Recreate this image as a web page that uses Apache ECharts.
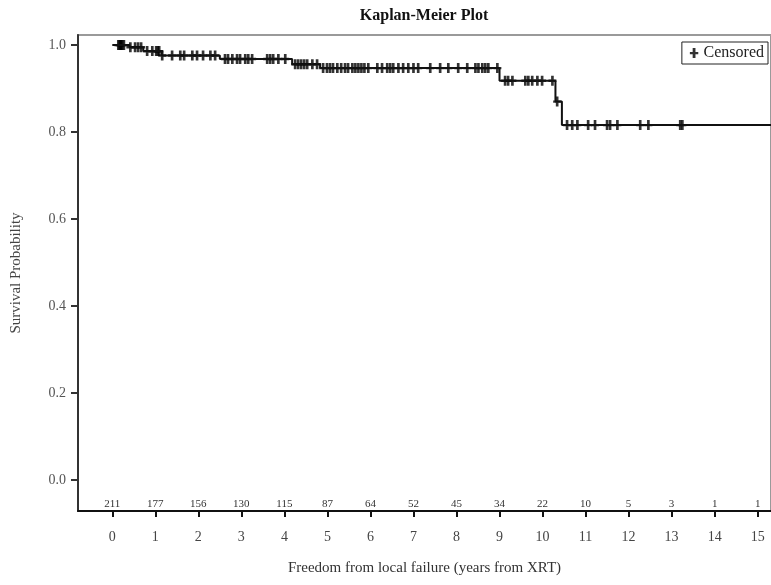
<!DOCTYPE html>
<html>
<head>
<meta charset="utf-8">
<script src="https://cdn.jsdelivr.net/npm/echarts@6/dist/echarts.min.js"></script>
<style>
  html, body { margin: 0; padding: 0; background: #fff; }
  #km_pic { width: 771px; height: 585px; }
</style>
</head>
<body>
<div id="km_pic"></div>
<script>
// KM step curve: time (years) and survival after each drop
var stepTimes = [0, 0.4, 0.72, 1.15, 2.5, 4.18, 4.83, 9.0, 10.3, 10.45, 15.31];
var stepSurv = [1.0, 0.995, 0.986, 0.976, 0.968, 0.956, 0.947, 0.918, 0.870, 0.816, 0.816];

// censored times (years)
var censorTimes = [
    0.14, 0.17, 0.19, 0.21, 0.23, 0.27, 0.42, 0.53, 0.60, 0.67, 0.81, 0.93, 1.02, 1.06, 1.09, 1.16,
    1.39, 1.58, 1.67, 1.86, 1.97, 2.11, 2.28, 2.39, 2.62, 2.69, 2.79, 2.90, 2.97, 3.09, 3.16, 3.25,
    3.60, 3.67, 3.74, 3.86, 4.02, 4.25, 4.32, 4.39, 4.46, 4.53, 4.65, 4.76, 4.90, 4.99, 5.06, 5.13,
    5.23, 5.32, 5.41, 5.48, 5.58, 5.65, 5.72, 5.79, 5.86, 5.95, 6.16, 6.27, 6.39, 6.46, 6.53, 6.65,
    6.76, 6.88, 7.00, 7.11, 7.39, 7.62, 7.81, 8.04, 8.25, 8.44, 8.51, 8.60, 8.67, 8.74, 8.95, 9.13,
    9.20, 9.30, 9.60, 9.67, 9.76, 9.88, 9.99, 10.23, 10.34, 10.57, 10.69, 10.81, 11.06, 11.22, 11.50,
    11.57, 11.74, 12.27, 12.46, 13.20, 13.25
];

// numbers at risk
var riskTimes = [0, 1, 2, 3, 4, 5, 6, 7, 8, 9, 10, 11, 12, 13, 14, 15];
var atRisk = [211, 177, 156, 130, 115, 87, 64, 52, 45, 34, 22, 10, 5, 3, 1, 1];
var yTicks = [0, 0.2, 0.4, 0.6, 0.8, 1.0];

function survAt(t) {
    var s = stepSurv[0];
    for (var i = 0; i < stepTimes.length; i++) {
        if (stepTimes[i] <= t) s = stepSurv[i];
    }
    return s;
}

var curve = [];
for (var i = 0; i < stepTimes.length; i++) {
    curve.push([stepTimes[i], stepSurv[i]]);
}
var censored = [];
for (var j = 0; j < censorTimes.length; j++) {
    censored.push([censorTimes[j], survAt(censorTimes[j])]);
}

var serif = '"Liberation Serif", "DejaVu Serif", serif';
var plusPath = 'path://M2.8,0H5.6V3.9H8.4V6.3H5.6V10H2.8V6.3H0V3.9H2.8Z';

var km_Chart = echarts.init(document.getElementById('km_pic'));

var option_km = {
    animation: false,
    title: {
        text: 'Kaplan-Meier Plot',
        left: 424,
        textAlign: 'center',
        top: 8,
        padding: 0,
        textStyle: { fontFamily: serif, fontSize: 16, fontWeight: 'bold', color: '#111' }
    },
    legend: {
        data: ['Censored'],
        right: 3,
        top: 42,
        orient: 'horizontal',
        borderColor: '#222',
        borderWidth: 1,
        padding: [3, 4, 3, 8],
        itemWidth: 9,
        itemHeight: 10,
        itemGap: 6,
        textStyle: { fontFamily: serif, fontSize: 16, color: '#222' }
    },
    grid: {
        left: 78,
        top: 35,
        right: 0,
        bottom: 74,
        outerBoundsMode: 'none',
        show: true,
        borderColor: '#9a9a9a',
        borderWidth: 2
    },
    xAxis: [
        {
            type: 'value',
            min: -0.797,
            max: 15.31,
            name: 'Freedom from local failure (years from XRT)',
            nameLocation: 'middle',
            nameGap: 50,
            nameTextStyle: { fontFamily: serif, fontSize: 15, color: '#333' },
            axisLine: { show: true, onZero: false, lineStyle: { color: '#111', width: 2 } },
            axisTick: { show: true, length: 6, customValues: riskTimes, lineStyle: { color: '#111', width: 2 } },
            axisLabel: {
                customValues: riskTimes,
                margin: 19,
                fontFamily: serif,
                fontSize: 14,
                color: '#444'
            },
            splitLine: { show: false }
        },
        {
            type: 'value',
            min: -0.797,
            max: 15.31,
            position: 'bottom',
            axisLine: { show: false },
            axisTick: { show: false, customValues: riskTimes },
            axisLabel: {
                inside: true,
                customValues: riskTimes,
                margin: 1,
                fontFamily: serif,
                fontSize: 11,
                color: '#333',
                formatter: function (v) {
                    var k = riskTimes.indexOf(Math.round(v));
                    return k >= 0 ? String(atRisk[k]) : '';
                }
            },
            splitLine: { show: false }
        }
    ],
    yAxis: {
        type: 'value',
        min: -0.0713,
        max: 1.023,
        name: 'Survival Probability',
        nameLocation: 'middle',
        nameRotate: 90,
        nameGap: 54,
        nameTextStyle: { fontFamily: serif, fontSize: 15, color: '#444' },
        axisLine: { show: true, onZero: false, lineStyle: { color: '#333', width: 2 } },
        axisTick: { show: true, length: 7, customValues: yTicks, lineStyle: { color: '#333', width: 2 } },
        axisLabel: {
            customValues: yTicks,
            margin: 12,
            fontFamily: serif,
            fontSize: 14,
            color: '#555',
            formatter: function (v) { return v.toFixed(1); }
        },
        splitLine: { show: false }
    },
    series: [
        {
            name: 'Survival',
            type: 'line',
            step: 'end',
            data: curve,
            symbol: 'none',
            clip: true,
            lineStyle: { color: '#111', width: 2 }
        },
        {
            name: 'Censored',
            type: 'scatter',
            data: censored,
            symbol: plusPath,
            symbolSize: [8, 10],
            itemStyle: { color: '#000' }
        }
    ]
};

km_Chart.setOption(option_km);
</script>
</body>
</html>
